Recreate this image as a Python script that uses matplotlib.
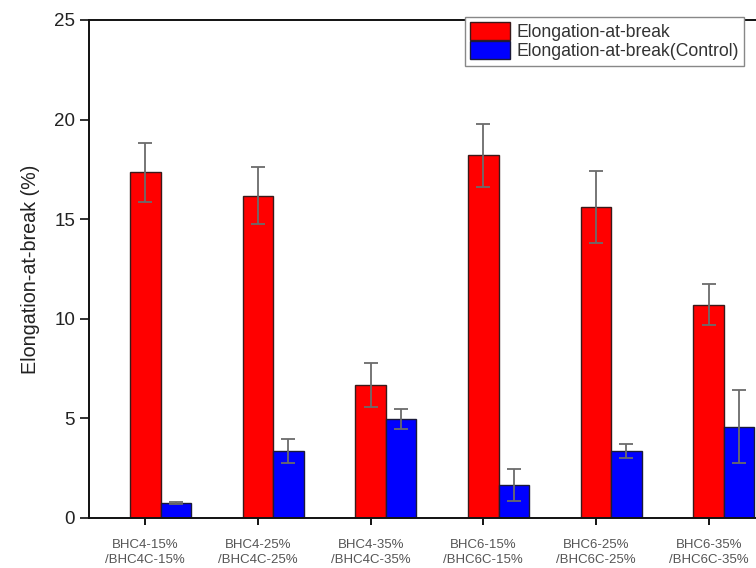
import matplotlib
matplotlib.use("Agg")
import matplotlib.pyplot as plt
import numpy as np

plt.rcParams['font.family'] = ['Liberation Sans', 'DejaVu Sans']

categories = ["BHC4-15%\n/BHC4C-15%", "BHC4-25%\n/BHC4C-25%", "BHC4-35%\n/BHC4C-35%",
              "BHC6-15%\n/BHC6C-15%", "BHC6-25%\n/BHC6C-25%", "BHC6-35%\n/BHC6C-35%"]
elong = [17.35, 16.18, 6.68, 18.2, 15.63, 10.71]
elong_err = [1.48, 1.42, 1.1, 1.58, 1.8, 1.02]
control = [0.74, 3.36, 4.97, 1.64, 3.36, 4.58]
control_err = [0.04, 0.62, 0.5, 0.8, 0.37, 1.83]
yticks = [0, 5, 10, 15, 20, 25]

fig = plt.figure(figsize=(7.56, 5.68), dpi=100)
ax = fig.add_axes([89/756, 1-518/568, 676/756, 498/568])

x = np.arange(1, len(categories) + 1)
w = 0.27
ekw = dict(ecolor='#6b6b6b', elinewidth=1.3, capsize=5, capthick=1.3)
ax.bar(x, elong, w, yerr=elong_err, color='#ff0000', edgecolor='#3a1a1a',
       linewidth=1.0, error_kw=ekw, label='Elongation-at-break')
ax.bar(x + w, control, w, yerr=control_err, color='#0000ff', edgecolor='#1a1a3a',
       linewidth=1.0, error_kw=ekw, label='Elongation-at-break(Control)')

ax.set_xlim(0.5, 6.5)
ax.set_ylim(0, 25)
ax.set_yticks(yticks)
ax.set_xticks(x)
ax.set_xticklabels(categories, fontsize=9.5, color='#555555', linespacing=1.4)
ax.tick_params(axis='y', labelsize=13.5, length=6.5, width=1.3, pad=3.5,
               direction='out', colors='#222222')
ax.tick_params(axis='x', length=5, width=1.3, direction='out', pad=10)
for s in ax.spines.values():
    s.set_linewidth(1.4)
    s.set_color('#111111')
ax.set_ylabel('Elongation-at-break (%)', fontsize=14.2, color='#222222', labelpad=10)

leg = fig.legend(loc='upper left', bbox_to_anchor=(465/756, 1-17/568), fontsize=12.7,
                 handlelength=2.25, handleheight=1.2, labelspacing=0.0, handletextpad=0.35,
                 borderpad=0.3, borderaxespad=0, fancybox=False, framealpha=1,
                 edgecolor='#888888')
leg.get_frame().set_linewidth(1.0)
for t in leg.get_texts():
    t.set_color('#333333')

fig.savefig('out.png', dpi=100)
